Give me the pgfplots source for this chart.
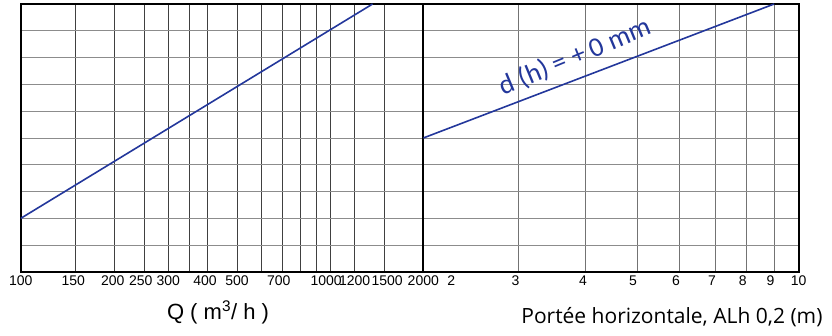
\documentclass[border=0pt]{standalone}
\usepackage{fontspec}
\setmainfont{Liberation Sans}
\newfontfamily\opensans{Open Sans}
\newfontfamily\carlito{Carlito}
\usepackage{pgfplots}
\pgfplotsset{compat=1.18}
\definecolor{lineblue}{RGB}{35,55,155}
\pgfplotsset{
  panel/.style={
    scale only axis, height=268pt, ymin=0, ymax=10,
    ytick={0,1,2,3,4,5,6,7,8,9,10}, yticklabels={},
    major tick length=0pt,
    axis line style={line width=2pt},
    xmajorgrids, ymajorgrids,
    y grid style={black!45, line width=0.8pt},
    tick label style={font=\fontsize{14}{17}\selectfont},
    /pgf/number format/assume math mode=true,
  }
}
\begin{document}
\begin{tikzpicture}
\useasboundingbox (0pt,0pt) rectangle (832pt,335pt);
\begin{semilogxaxis}[panel, at={(20.7pt,63pt)}, anchor=south west, width=402.6pt,
  xmin=100, xmax=2000,
  xtick={100,150,200,250,300,350,400,500,600,700,800,900,1000,1200,1500,2000},
  xticklabels={100,{150\hspace*{4pt}},{200\hspace*{2pt}},{250\hspace*{6pt}},300,,{400\hspace*{4pt}},500,,{700\hspace*{7pt}},,,{1000\hspace*{8pt}},1200,{\hspace*{5pt}1500},2000},
  x grid style={black!75, line width=0.7pt}]
\addplot[lineblue, line width=1.6pt] coordinates {(100,2) (1371,10)};
\end{semilogxaxis}
\begin{semilogxaxis}[panel, at={(423.3pt,63pt)}, anchor=south west, width=375.4pt,
  xmin=2, xmax=10,
  xtick={2,3,4,5,6,7,8,9,10},
  xticklabels={{\hspace*{56pt}2},{3\hspace*{5pt}},{4\hspace*{4pt}},{5\hspace*{8pt}},{6\hspace*{7pt}},{7\hspace*{7pt}},{8\hspace*{8pt}},{9\hspace*{7pt}},10},
  x grid style={black!55, line width=0.7pt}]
\addplot[lineblue, line width=1.6pt] coordinates {(2,5) (9,10)};
\end{semilogxaxis}
\node[rotate=22.5, text=lineblue, font=\carlito\fontsize{27.5}{32}\selectfont] at (575pt,278pt) {d (h) = + 0 mm};
\node[anchor=base, font=\fontsize{22}{26}\selectfont] at (218pt,16pt) {Q ( m\textsuperscript{3}/ h )};
\node[anchor=base east, font=\opensans\fontsize{21}{25}\selectfont] at (826pt,12pt) {Portée horizontale, ALh 0,2 (m)};
\end{tikzpicture}
\end{document}
